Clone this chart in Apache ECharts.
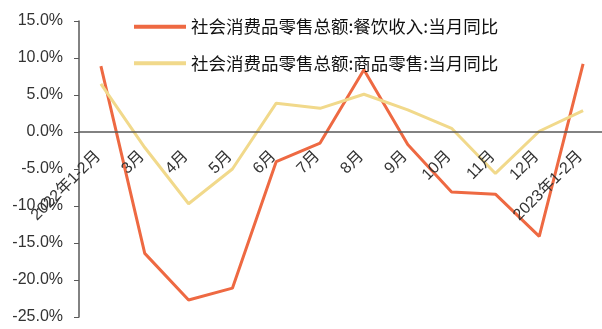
<!DOCTYPE html>
<html>
<head>
<meta charset="utf-8">
<script src="https://cdn.jsdelivr.net/npm/echarts@6/dist/echarts.min.js"></script>
<style>html,body{margin:0;padding:0;background:#fff}#c{width:602px;height:329px}</style>
</head>
<body>
<div id="c"></div>
<script>
var categories = ['2022年1-2月','3月','4月','5月','6月','7月','8月','9月','10月','11月','12月','2023年1-2月'];
var cateringName = '社会消费品零售总额:餐饮收入:当月同比';
var retailName = '社会消费品零售总额:商品零售:当月同比';
var cateringValues = [8.9, -16.4, -22.7, -21.1, -4.0, -1.5, 8.4, -1.7, -8.1, -8.4, -14.1, 9.2];
var retailValues = [6.5, -2.1, -9.7, -5.0, 3.9, 3.2, 5.1, 3.0, 0.5, -5.6, 0.1, 2.9];

var chart = echarts.init(document.getElementById('c'), null, {renderer: 'canvas'});
chart.setOption({
  animation: false,
  backgroundColor: '#fff',
  grid: {left: 79, top: 21, width: 526, height: 296, containLabel: false, outerBoundsMode: 'none'},
  legend: {
    orient: 'vertical', left: 129, top: 13,
    itemWidth: 52, itemHeight: 4, itemGap: 19,
    icon: 'rect',
    textStyle: {fontFamily: '"Noto Sans CJK SC"', fontSize: 17.5, color: '#111'},
    data: [cateringName, retailName]
  },
  xAxis: {
    type: 'category', data: categories, boundaryGap: true,
    position: 'bottom', offset: -185, z: 5,
    axisLine: {onZero: false, lineStyle: {color: '#595959', width: 1.5}},
    axisTick: {inside: true, length: 5, lineStyle: {color: '#595959', width: 1.2}},
    axisLabel: {rotate: 45, interval: 0, margin: 19, padding: [0, 4, 0, 0], fontFamily: '"Liberation Sans", Arial, "Noto Sans CJK SC"', fontSize: 16, color: '#333'}
  },
  yAxis: {
    type: 'value', min: -25, max: 15, interval: 5,
    splitLine: {show: false},
    axisLine: {show: true, lineStyle: {color: '#595959', width: 1.5}},
    axisTick: {show: true, length: 5, lineStyle: {color: '#595959'}},
    axisLabel: {margin: 16, fontFamily: '"Liberation Sans", Arial', fontSize: 16, color: '#333',
      formatter: function (v) { return v.toFixed(1) + '%'; }}
  },
  series: [
    {name: cateringName, type: 'line', data: cateringValues, symbol: 'none', color: '#EE6942', lineStyle: {width: 3, color: '#EE6942'}},
    {name: retailName, type: 'line', data: retailValues, symbol: 'none', color: '#F1D98B', lineStyle: {width: 3, color: '#F1D98B'}}
  ]
});
</script>
</body>
</html>
